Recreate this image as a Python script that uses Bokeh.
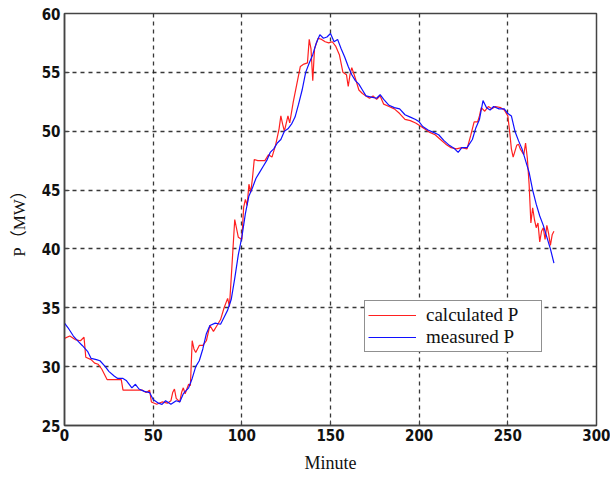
from bokeh.plotting import figure
from bokeh.models import Range1d, Legend, LegendItem, FixedTicker
from bokeh.embed import file_html
from bokeh.resources import INLINE

# measured P (blue)
meas_x = [0, 2, 5, 8, 10, 13, 15, 18, 20, 23, 25, 28, 30, 33, 35, 38, 40, 42, 45, 48,
          50, 53, 55, 57, 60, 63, 65, 67, 70, 72, 74, 76, 78, 80, 82, 85, 88, 90, 92,
          94, 96, 98, 100, 102, 104, 106, 108, 110, 112, 114, 116, 118, 120, 122, 124,
          126, 128, 130, 132, 134, 136, 138, 140, 142, 144, 146, 148, 150, 152, 154,
          156, 158, 160, 162, 164, 166, 168, 170, 173, 176, 178, 180, 183, 186, 189,
          192, 195, 198, 200, 202, 205, 208, 211, 214, 217, 220, 222, 224, 227, 230,
          232, 234, 236, 238, 240, 242, 245, 248, 250, 252, 254, 256, 258, 260, 262,
          264, 266, 268, 270, 272, 274, 276]
meas_y = [33.7, 33.3, 32.6, 32.1, 31.8, 31.3, 30.7, 30.6, 30.5, 30.0, 29.6, 29.2, 29.0,
          29.0, 28.8, 28.2, 28.5, 28.1, 27.9, 27.8, 27.2, 26.9, 26.8, 27.1, 26.8, 27.1,
          27.0, 27.7, 28.2, 29.0, 30.0, 30.5, 31.5, 32.8, 33.5, 33.7, 33.6, 34.2, 34.8,
          35.7, 37.5, 39.5, 41.0, 43.0, 44.5, 45.2, 46.0, 46.5, 47.0, 47.5, 48.2, 48.5,
          49.0, 49.3, 50.0, 50.2, 50.6, 51.2, 52.3, 53.5, 55.0, 55.8, 56.5, 57.5, 58.2,
          57.9, 58.0, 58.3, 57.6, 57.8, 57.0, 56.3, 55.5, 54.8, 54.3, 54.0, 53.5, 53.0,
          52.9, 52.8, 53.1, 52.7, 52.2, 52.0, 51.9, 51.4, 51.2, 51.0, 50.8, 50.4, 50.1,
          49.9, 49.7, 49.2, 48.8, 48.5, 48.2, 48.6, 48.6, 49.3, 50.3, 51.0, 52.6, 52.0,
          51.8, 52.1, 51.9, 51.9, 51.5, 51.3, 50.0, 49.2, 48.5, 47.5, 46.5, 45.0, 43.8,
          42.8, 42.0, 41.0, 40.0, 38.8]

# calculated P (red)
calc_x = [0, 3, 6, 9, 11, 12, 15, 17, 19, 21, 24, 28, 32, 33, 36, 40, 44, 46, 48, 49,
          52, 55, 58, 60, 61, 62, 63, 65, 66, 67, 68, 70, 71, 72, 73, 74, 76, 78, 80, 82,
          84, 86, 88, 90, 92, 93, 94, 96, 98, 100, 101, 102, 103, 104, 105, 106, 107,
          109, 111, 113, 115, 117, 119, 121, 122, 123, 124, 126, 127, 129, 131, 133,
          135, 137, 138, 139, 140, 141, 143, 145, 147, 149, 151, 153, 155, 157, 159,
          160, 161, 162, 164, 166, 168, 170, 172, 174, 176, 178, 180, 183, 186, 189,
          192, 195, 198, 200, 203, 206, 209, 212, 215, 218, 221, 224, 227, 229, 231,
          233, 234, 235, 237, 239, 241, 243, 246, 248, 250, 251, 252, 253, 255, 256,
          257, 259, 260, 261, 262, 263, 264, 265, 266, 267, 268, 269, 270, 271, 272,
          273, 274, 275, 276]
calc_y = [32.4, 32.6, 32.3, 32.2, 32.5, 30.8, 30.6, 30.3, 30.2, 29.8, 28.9, 28.9, 28.9,
          28.0, 28.0, 28.0, 28.0, 27.8, 28.0, 27.0, 26.8, 27.0, 26.9, 27.1, 27.8, 28.1,
          27.3, 27.0, 27.8, 28.2, 27.7, 28.5, 28.4, 32.2, 31.5, 31.2, 31.8, 31.8, 32.2,
          33.5, 33.0, 33.5, 34.0, 35.0, 35.8, 35.1, 37.5, 42.5, 41.0, 40.8, 43.5, 44.2,
          43.7, 45.5, 44.8, 46.0, 47.6, 47.5, 47.5, 47.5, 48.0, 47.8, 48.8, 50.2, 51.3,
          50.6, 50.0, 51.3, 50.7, 52.5, 54.0, 55.5, 55.7, 55.8, 57.8, 57.0, 54.3, 57.0,
          57.9, 57.8, 57.6, 57.5, 57.6, 57.2, 56.5, 55.0, 54.8, 53.8, 54.8, 55.4, 54.5,
          53.5, 53.2, 53.0, 52.8, 53.0, 52.7, 53.0, 52.3, 52.1, 51.9, 51.5, 51.0, 50.9,
          50.7, 50.5, 50.2, 49.9, 49.7, 49.3, 48.9, 48.6, 48.5, 48.6, 48.5, 49.6, 50.8,
          50.8, 51.3, 52.0, 51.7, 52.1, 51.9, 52.1, 52.0, 51.8, 51.3, 50.0, 48.5, 47.8,
          48.8, 48.9, 48.5, 48.0, 49.0, 47.7, 45.5, 42.2, 43.5, 42.5, 41.8, 42.2, 40.6,
          41.5, 41.8, 40.8, 42.0, 41.3, 40.3, 41.2, 41.5]

x_ticks = [0, 50, 100, 150, 200, 250, 300]
y_ticks = [25, 30, 35, 40, 45, 50, 55, 60]

p = figure(width=610, height=475, output_backend="svg", toolbar_location=None,
           x_range=Range1d(0, 300), y_range=Range1d(25, 60),
           min_border_left=64, min_border_top=13, min_border_right=14, min_border_bottom=42)

r_calc = p.line(calc_x, calc_y, line_color="#ff2020", line_width=1.2)
r_meas = p.line(meas_x, meas_y, line_color="#1010ff", line_width=1.2)

tick_font = "Liberation Sans Narrow, DejaVu Sans Condensed, sans-serif"
for ax in [p.xaxis[0], p.yaxis[0]]:
    ax.major_label_text_font = tick_font
    ax.major_label_text_font_style = "bold"
    ax.major_label_text_font_size = "15px"
    ax.major_label_text_color = "#111111"
    ax.major_tick_in = 5
    ax.major_tick_out = 0
    ax.minor_tick_line_color = None
    ax.axis_line_color = "#444444"
    ax.axis_line_width = 1.5
    ax.major_tick_line_color = "#444444"
    ax.axis_label_text_font = "Liberation Serif"
    ax.axis_label_text_font_style = "normal"
    ax.axis_label_text_color = "#111111"

p.xaxis[0].ticker = FixedTicker(ticks=x_ticks)
p.yaxis[0].ticker = FixedTicker(ticks=y_ticks)
p.xaxis[0].axis_label = "Minute"
p.xaxis[0].axis_label_text_font_size = "18px"
p.xaxis[0].major_label_standoff = 3
p.xaxis[0].axis_label_standoff = 9
p.yaxis[0].axis_label = "P（MW）"
p.yaxis[0].axis_label_text_font = "Liberation Serif, Noto Sans CJK SC"
p.yaxis[0].axis_label_text_font_size = "17px"
p.yaxis[0].major_label_standoff = 4
p.yaxis[0].axis_label_standoff = 10

p.xgrid.ticker = FixedTicker(ticks=x_ticks)
p.ygrid.ticker = FixedTicker(ticks=y_ticks)
for g in [p.xgrid[0], p.ygrid[0]]:
    g.grid_line_color = "#222222"
    g.grid_line_dash = "4 4"
    g.grid_line_width = 1.3
    g.grid_line_alpha = 0.9

p.outline_line_color = "#444444"
p.outline_line_width = 1.5

legend = Legend(items=[LegendItem(label="calculated P", renderers=[r_calc]),
                       LegendItem(label="measured P", renderers=[r_meas])],
                location=(300, 73))
legend.label_text_font = "Liberation Serif"
legend.label_text_font_size = "19px"
legend.label_text_color = "#111111"
legend.glyph_width = 48
legend.label_standoff = 10
legend.label_width = 112
legend.padding = 3
legend.spacing = 0
legend.label_height = 20
legend.glyph_height = 20
legend.margin = 0
legend.border_line_color = "#222222"
legend.border_line_width = 1.5
legend.background_fill_alpha = 1.0
p.add_layout(legend)

open("out.html", "w").write(file_html(p, INLINE))
